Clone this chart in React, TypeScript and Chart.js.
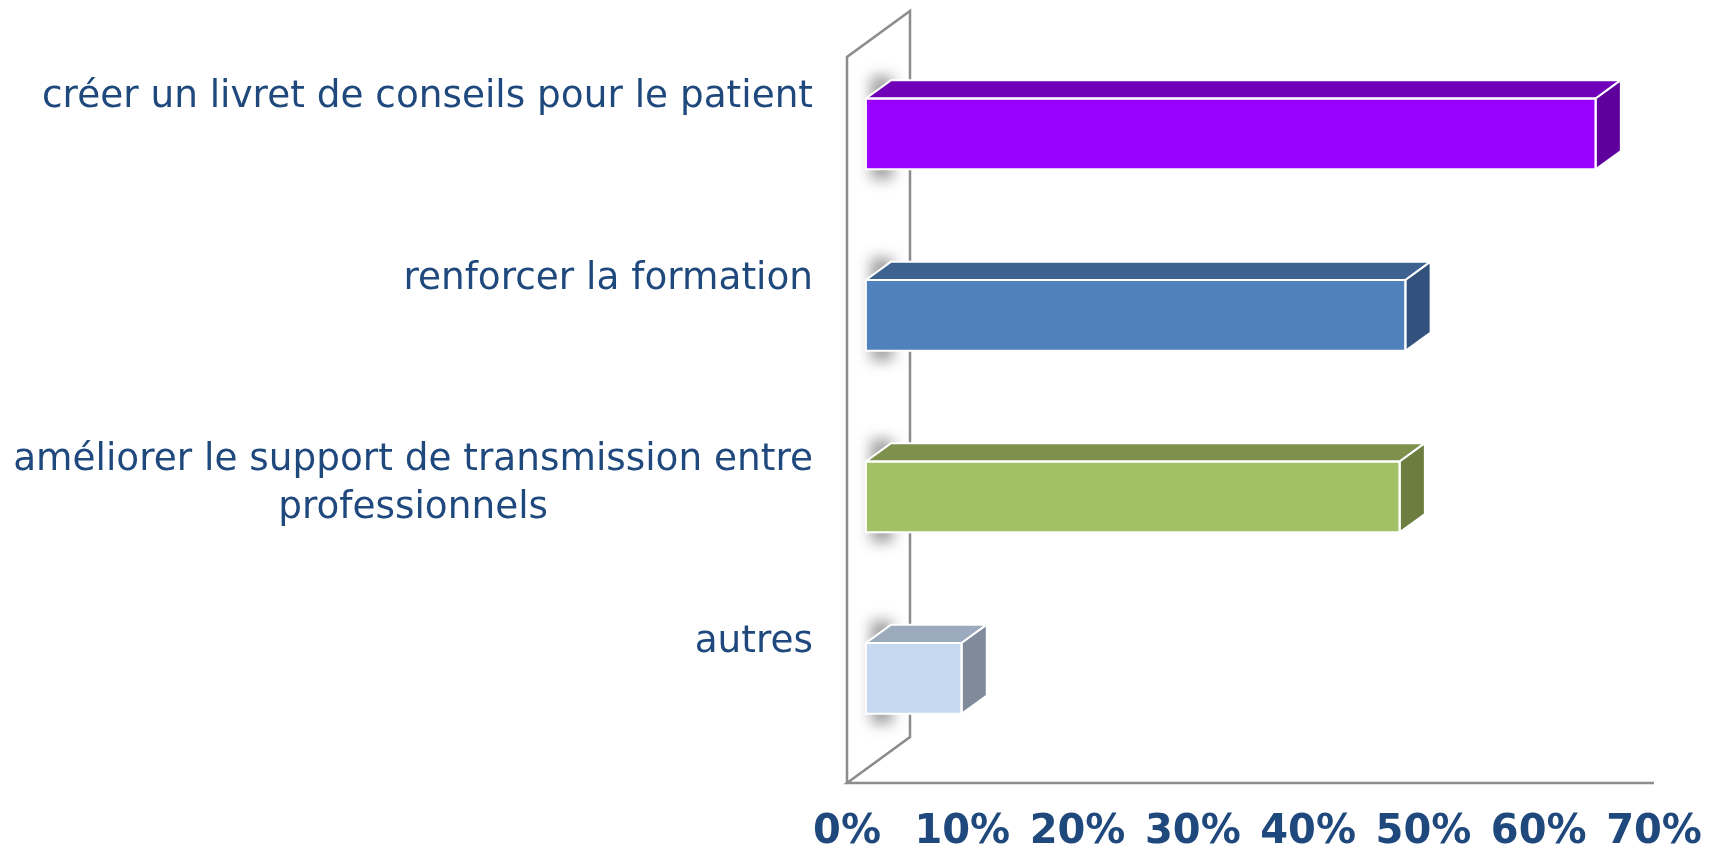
import React, { useEffect, useRef } from "react";
import { Chart, registerables } from "chart.js";

Chart.register(...registerables);

const categories: (string | string[])[] = [
  "créer un livret de conseils pour le patient",
  "renforcer la formation",
  ["améliorer le support de transmission entre", "professionnels"],
  "autres",
];
const values = [63.3, 46.8, 46.3, 8.3];
const frontColors = ["#9900FF", "#4F81BD", "#A2C167", "#C6D9F1"];
const topColors = ["#7100B9", "#3D628F", "#7E914C", "#9BAABD"];
const sideColors = ["#5E009C", "#32527D", "#6B7D3F", "#7F8B9B"];
const tickValues = [0, 10, 20, 30, 40, 50, 60, 70];

const DEPTH_DX = 63; // wall depth offset
const DEPTH_DY = 46;
const BAR_FRONT = 0.3;
const BAR_DEPTH = 0.4;

const TEXT_COLOR = "#1F497D";

const threeD = {
  id: "threeD",
  beforeDatasetsDraw(chart: any) {
    const { ctx, chartArea } = chart;
    const { left, right, top, bottom } = chartArea;
    ctx.save();
    ctx.strokeStyle = "#8C8C8C";
    ctx.lineWidth = 2.5;
    ctx.beginPath();
    ctx.moveTo(left, bottom);
    ctx.lineTo(left, top);
    ctx.lineTo(left + DEPTH_DX, top - DEPTH_DY);
    ctx.lineTo(left + DEPTH_DX, bottom - DEPTH_DY);
    ctx.lineTo(left, bottom);
    ctx.lineTo(right, bottom);
    ctx.stroke();
    // shadows on the back wall
    const meta = chart.getDatasetMeta(0);
    const fdx = DEPTH_DX * BAR_FRONT;
    const fdy = DEPTH_DY * BAR_FRONT;
    const bdy = DEPTH_DY * BAR_DEPTH;
    ctx.filter = "blur(7px)";
    ctx.fillStyle = "rgba(0,0,0,0.38)";
    meta.data.forEach((el: any) => {
      const h = el.height;
      const t = el.y - h / 2 - fdy;
      const b = el.y + h / 2 - fdy;
      ctx.fillRect(el.base + fdx + 5, t - bdy - 4, 22, b - t + bdy + 14);
    });
    ctx.filter = "none";
    ctx.restore();
  },
  beforeDatasetDraw(chart: any) {
    const ctx = chart.ctx;
    ctx.save();
    ctx.translate(DEPTH_DX * BAR_FRONT, -DEPTH_DY * BAR_FRONT);
  },
  afterDatasetDraw(chart: any, args: any) {
    const ctx = chart.ctx;
    const meta = args.meta;
    const dx = DEPTH_DX * BAR_DEPTH;
    const dy = DEPTH_DY * BAR_DEPTH;
    meta.data.forEach((el: any, i: number) => {
      const h = el.height;
      const t = el.y - h / 2;
      const b = el.y + h / 2;
      const x0 = el.base;
      const x1 = el.x;
      ctx.lineWidth = 2;
      ctx.strokeStyle = "#FFFFFF";
      ctx.lineJoin = "round";
      // top face
      ctx.beginPath();
      ctx.moveTo(x0, t);
      ctx.lineTo(x1, t);
      ctx.lineTo(x1 + dx, t - dy);
      ctx.lineTo(x0 + dx, t - dy);
      ctx.closePath();
      ctx.fillStyle = topColors[i];
      ctx.fill();
      ctx.stroke();
      // side face
      ctx.beginPath();
      ctx.moveTo(x1, t);
      ctx.lineTo(x1 + dx, t - dy);
      ctx.lineTo(x1 + dx, b - dy);
      ctx.lineTo(x1, b);
      ctx.closePath();
      ctx.fillStyle = sideColors[i];
      ctx.fill();
      ctx.stroke();
      // front outline
      ctx.strokeRect(x0, t, x1 - x0, h);
    });
    ctx.restore();
  },
  afterDraw(chart: any) {
    const { ctx } = chart;
    const yScale = chart.scales.y;
    const xRight = chart.chartArea.left - 34;
    ctx.save();
    ctx.font = "37.4px 'DejaVu Sans'";
    ctx.fillStyle = TEXT_COLOR;
    ctx.textBaseline = "middle";
    ctx.textAlign = "center";
    const lineH = 48;
    categories.forEach((c, i) => {
      const lines = Array.isArray(c) ? c : [c];
      const w = Math.max(...lines.map((l) => ctx.measureText(l).width));
      const cx = xRight - w / 2;
      const y0 = yScale.getPixelForValue(i) - 50;
      lines.forEach((l, j) => ctx.fillText(l, cx, y0 + j * lineH));
    });
    ctx.restore();
  },
};

export default function App() {
  const ref = useRef<HTMLCanvasElement>(null);
  useEffect(() => {
    document.body.style.margin = "0";
    const chart = new Chart(ref.current!, {
      type: "bar",
      data: {
        labels: categories.map((c) => (Array.isArray(c) ? c.join(" ") : c)),
        datasets: [
          {
            data: values,
            backgroundColor: frontColors,
            borderWidth: 0,
            barPercentage: 0.39,
            categoryPercentage: 1,
          },
        ],
      },
      options: {
        indexAxis: "y",
        responsive: false,
        animation: false,
        layout: { padding: { left: 847, top: 57, right: 65, bottom: 0 } },
        plugins: { legend: { display: false }, tooltip: { enabled: false } },
        scales: {
          y: { display: false },
          x: {
            min: 0,
            max: 70,
            grid: { display: false, drawTicks: false },
            border: { display: false },
            afterBuildTicks: (s: any) => {
              s.ticks = tickValues.map((v) => ({ value: v }));
            },
            afterFit: (s: any) => {
              s.height = 65;
              s.paddingRight = 0;
              s.paddingLeft = 0;
            },
            ticks: {
              autoSkip: false,
              maxRotation: 0,
              padding: 26,
              color: TEXT_COLOR,
              font: { family: "'DejaVu Sans'", size: 40, weight: "bold" },
              callback: (v: any) => v + "%",
            },
          },
        },
      },
      plugins: [threeD],
    });
    return () => chart.destroy();
  }, []);
  return (
    <div style={{ width: 1719, height: 848 }}>
      <canvas ref={ref} width={1719} height={848} />
    </div>
  );
}
